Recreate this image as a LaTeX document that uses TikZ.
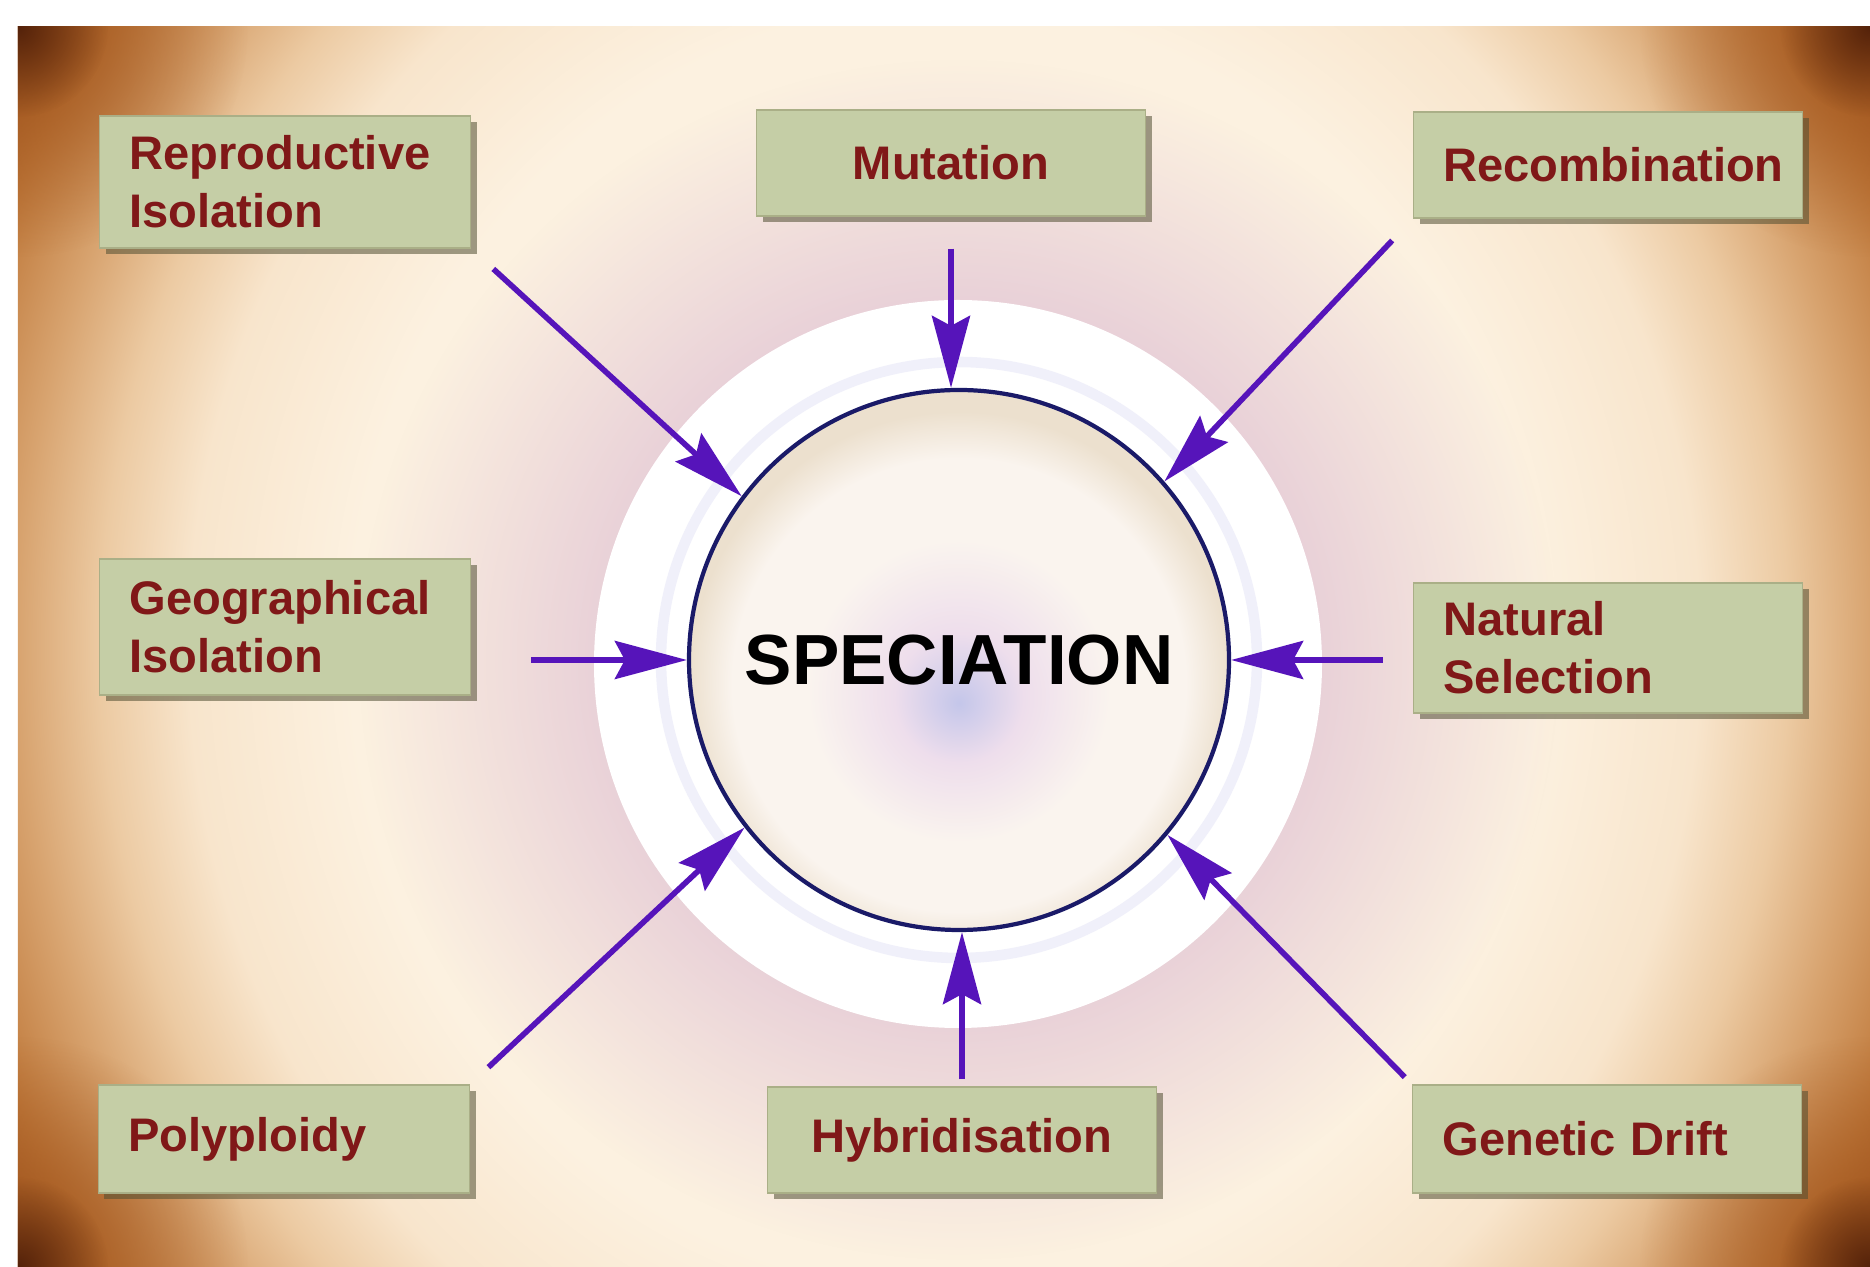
\documentclass[tikz,border=0pt]{standalone}
\usepackage{fontspec}
\setmainfont{Liberation Sans}
\usetikzlibrary{arrows.meta,positioning,shadows,fadings}

\definecolor{cream}{RGB}{252,241,224}
\definecolor{creamdeep}{RGB}{248,229,204}
\definecolor{sand}{RGB}{236,202,162}
\definecolor{tan}{RGB}{216,164,112}
\definecolor{ochre}{RGB}{192,122,60}
\definecolor{rust}{RGB}{162,86,30}
\definecolor{umber}{RGB}{118,54,14}
\definecolor{darkumber}{RGB}{84,34,10}
\definecolor{glowpink}{RGB}{205,162,205}
\definecolor{haloring}{RGB}{214,214,242}
\definecolor{lavblue}{RGB}{196,198,234}
\definecolor{lavpink}{RGB}{238,222,236}
\definecolor{pearl}{RGB}{250,244,238}
\definecolor{beige}{RGB}{236,224,206}
\definecolor{ringnavy}{RGB}{26,26,104}
\definecolor{arrowpurple}{RGB}{86,20,186}
\definecolor{boxfill}{RGB}{197,206,166}
\definecolor{boxedge}{RGB}{170,175,135}
\definecolor{boxtext}{RGB}{128,24,24}
\definecolor{boxshadow}{RGB}{80,78,50}

\pgfdeclareradialshading{vignette}{\pgfpoint{0bp}{0bp}}{%
  color(0bp)=(cream); color(16bp)=(cream); color(20.4bp)=(creamdeep);
  color(22.8bp)=(sand); color(25bp)=(tan); color(27.5bp)=(ochre);
  color(29.5bp)=(rust); color(31.5bp)=(umber); color(33.5bp)=(darkumber);
  color(50bp)=(darkumber)}
\pgfdeclareradialshading{discfill}{\pgfpoint{0bp}{-4bp}}{%
  color(0bp)=(lavblue); color(6bp)=(lavpink); color(14bp)=(pearl);
  color(21bp)=(pearl); color(25bp)=(beige); color(50bp)=(beige)}
\tikzfading[name=glowfade, inner color=transparent!0, outer color=transparent!100]

\newcommand{\boxfont}{\fontsize{13.4}{16.5}\selectfont\bfseries}
\newcommand{\discfont}{\fontsize{20.2}{24}\selectfont\bfseries}

\begin{document}
\begin{tikzpicture}[
  factor/.style={draw=boxedge, fill=boxfill, text=boxtext, font=\boxfont,
    minimum width=3.89cm, minimum height=1.06cm, inner xsep=0.3cm,
    text width=3.29cm, align=left,
    drop shadow={shadow xshift=0.06cm, shadow yshift=-0.06cm,
      fill=boxshadow, opacity=0.55}},
  leftcol/.style={minimum width=3.71cm, text width=3.11cm},
  arr/.style={draw=arrowpurple, line width=1.6pt,
    -{Stealth[length=0.72cm, width=0.38cm, inset=0.1cm]}}]
  \useasboundingbox (0,0) rectangle (18.70,12.67);

  % backdrop: cream middle, brown edges, dark corners
  \begin{scope}
    \clip (0.18,0) rectangle (18.70,12.40);
    \shade[shading=vignette] (0.18,-3.80) rectangle (18.70,16.20);
    \foreach \cx/\cy in {0.18/0, 0.18/12.40, 18.70/0, 18.70/12.40} {
      \fill[rust, path fading=glowfade] (\cx,\cy) circle (2.3);
      \fill[darkumber, path fading=glowfade] (\cx,\cy) circle (0.9);
    }
  \end{scope}

  % glow and white halo round the disc
  \fill[glowpink, path fading=glowfade] (9.59,6.07) circle (6.0);
  \fill[white] (9.58,6.03) circle (3.64);
  \draw[haloring, line width=3pt, opacity=0.35] (9.59,6.07) circle (2.98);

  % the disc
  \node[circle, shade, shading=discfill, draw=ringnavy, line width=1.2pt,
    minimum size=5.40cm, inner sep=0pt, font=\discfont] (spec) at (9.59,6.07)
    {SPECIATION};

  % factors
  \node[factor, leftcol, minimum height=1.32cm] (repro) at (2.85,10.85)
    {Reproductive\\Isolation};
  \node[factor, align=center] (mut) at (9.51,11.04) {Mutation};
  \node[factor, align=center] (recomb) at (16.08,11.02) {Recombination};
  \node[factor, leftcol, minimum height=1.36cm] (geo) at (2.85,6.40)
    {Geographical\\Isolation};
  \node[factor, minimum height=1.30cm] (nat) at (16.08,6.19)
    {Natural\\Selection};
  \node[factor, leftcol, minimum height=1.08cm] (poly) at (2.84,1.28)
    {Polyploidy};
  \node[factor, align=center] (hyb) at (9.62,1.27) {Hybridisation};
  \node[factor, minimum height=1.08cm] (gen) at (16.07,1.28) {Genetic Drift};

  % arrows into the disc
  \draw[arr, shorten <=0.3cm] (repro.south east) -- (spec.143);
  \draw[arr, shorten <=0.32cm] (mut.south) -- (mut.south |- spec.north);
  \draw[arr, shorten <=0.3cm] (recomb.south west) -- (spec.41);
  \draw[arr, shorten <=0.6cm] (geo.east |- spec.west) -- (spec.west);
  \draw[arr, shorten <=0.3cm] (nat.west |- spec.east) -- (spec.east);
  \draw[arr, shorten <=0.25cm] (poly.north east) -- (spec.218);
  \draw[arr, shorten <=0.07cm] (hyb.north) -- (hyb.north |- spec.south);
  \draw[arr, shorten <=0.1cm] (gen.north west) -- (spec.320);
\end{tikzpicture}
\end{document}
